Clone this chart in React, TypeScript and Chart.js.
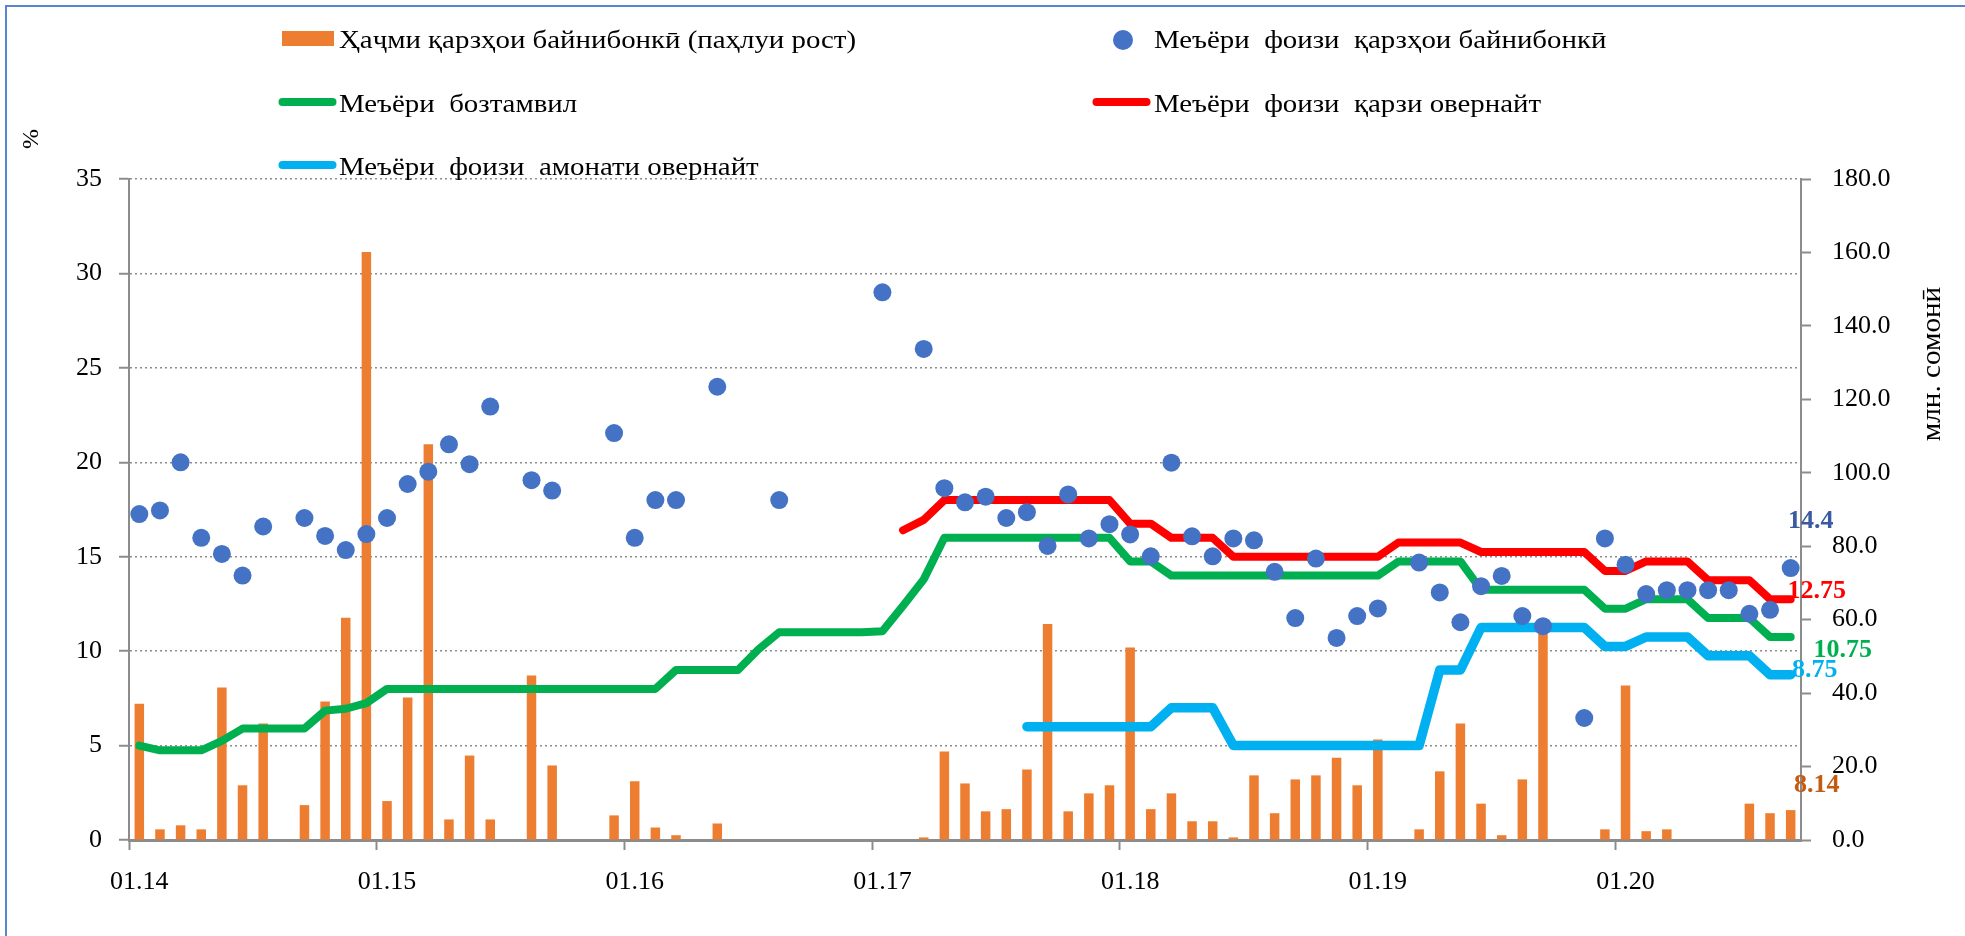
import React, { useEffect, useRef } from 'react';
import { Chart, registerables } from 'chart.js';

Chart.register(...registerables);

// ---------------- DATA ----------------
const monthLabels: string[] = [
  '01.14', '02.14', '03.14', '04.14', '05.14', '06.14', '07.14', '08.14', '09.14', '10.14', '11.14', '12.14',
  '01.15', '02.15', '03.15', '04.15', '05.15', '06.15', '07.15', '08.15', '09.15', '10.15', '11.15', '12.15',
  '01.16', '02.16', '03.16', '04.16', '05.16', '06.16', '07.16', '08.16', '09.16', '10.16', '11.16', '12.16',
  '01.17', '02.17', '03.17', '04.17', '05.17', '06.17', '07.17', '08.17', '09.17', '10.17', '11.17', '12.17',
  '01.18', '02.18', '03.18', '04.18', '05.18', '06.18', '07.18', '08.18', '09.18', '10.18', '11.18', '12.18',
  '01.19', '02.19', '03.19', '04.19', '05.19', '06.19', '07.19', '08.19', '09.19', '10.19', '11.19', '12.19',
  '01.20', '02.20', '03.20', '04.20', '05.20', '06.20', '07.20', '08.20', '09.20',
];

// Interbank loan volume, mln somoni (right axis)
const interbankVolume: (number | null)[] = [
  37.1, 2.9, 4.0, 2.9, 41.5, 14.9, 31.7, null, 9.5, 37.7, 60.5, 160.1,
  10.6, 38.8, 107.8, 5.6, 23.0, 5.6, null, 44.8, 20.3, null, null, 6.7,
  16.0, 3.4, 1.3, null, 4.5, null, null, null, null, null, null, null,
  null, null, 0.7, 24.1, 15.4, 7.8, 8.4, 19.2, 58.8, 7.8, 12.7, 14.9,
  52.4, 8.4, 12.7, 5.1, 5.1, 0.7, 17.6, 7.3, 16.5, 17.6, 22.4, 14.9,
  27.4, null, 2.9, 18.7, 31.7, 9.9, 1.3, 16.5, 58.2, null, null, 2.9,
  42.1, 2.4, 2.9, null, null, null, 9.9, 7.3, 8.14,
];

// Interbank loan rate, % (left axis)
const interbankRate: (number | null)[] = [
  17.26, 17.45, 20.0, 16.0, 15.15, 14.0, 16.6, null, 17.05, 16.1, 15.35, 16.2,
  17.05, 18.85, 19.5, 20.95, 19.9, 22.95, null, 19.05, 18.5, null, null, 21.55,
  16.0, 18.0, 18.0, null, 24.0, null, null, 18.0, null, null, null, null,
  29.0, null, 26.0, 18.63, 17.88, 18.18, 17.05, 17.36, 15.57, 18.3, 15.97, 16.72,
  16.18, 15.02, 19.98, 16.08, 15.02, 15.97, 15.87, 14.2, 11.75, 14.9, 10.7, 11.86,
  12.26, null, 14.69, 13.11, 11.53, 13.44, 13.98, 11.86, 11.32, null, 6.46, 15.97,
  14.58, 13.02, 13.23, 13.23, 13.23, 13.23, 11.98, 12.19, 14.4,
];

// Refinancing rate, %
const refinancingRate: (number | null)[] = [
  5.0, 4.75, 4.75, 4.75, 5.25, 5.9, 5.9, 5.9, 5.9, 6.85, 6.95, 7.25,
  8.0, 8.0, 8.0, 8.0, 8.0, 8.0, 8.0, 8.0, 8.0, 8.0, 8.0, 8.0,
  8.0, 8.0, 9.0, 9.0, 9.0, 9.0, 10.1, 11.0, 11.0, 11.0, 11.0, 11.0,
  11.05, 12.4, 13.8, 16.0, 16.0, 16.0, 16.0, 16.0, 16.0, 16.0, 16.0, 16.0,
  14.75, 14.75, 14.0, 14.0, 14.0, 14.0, 14.0, 14.0, 14.0, 14.0, 14.0, 14.0,
  14.0, 14.75, 14.75, 14.75, 14.75, 13.25, 13.25, 13.25, 13.25, 13.25, 13.25, 12.25,
  12.25, 12.75, 12.75, 12.75, 11.75, 11.75, 11.75, 10.75, 10.75,
];

// Overnight loan rate, %
const overnightLoanRate: (number | null)[] = [
  null, null, null, null, null, null, null, null, null, null, null, null,
  null, null, null, null, null, null, null, null, null, null, null, null,
  null, null, null, null, null, null, null, null, null, null, null, null,
  null, 16.4, 16.95, 18.0, 18.0, 18.0, 18.0, 18.0, 18.0, 18.0, 18.0, 18.0,
  16.75, 16.75, 16.0, 16.0, 16.0, 15.0, 15.0, 15.0, 15.0, 15.0, 15.0, 15.0,
  15.0, 15.75, 15.75, 15.75, 15.75, 15.25, 15.25, 15.25, 15.25, 15.25, 15.25, 14.25,
  14.25, 14.75, 14.75, 14.75, 13.75, 13.75, 13.75, 12.75, 12.75,
];

// Overnight deposit rate, %
const overnightDepositRate: (number | null)[] = [
  null, null, null, null, null, null, null, null, null, null, null, null,
  null, null, null, null, null, null, null, null, null, null, null, null,
  null, null, null, null, null, null, null, null, null, null, null, null,
  null, null, null, null, null, null, null, 6.0, 6.0, 6.0, 6.0, 6.0,
  6.0, 6.0, 7.0, 7.0, 7.0, 5.0, 5.0, 5.0, 5.0, 5.0, 5.0, 5.0,
  5.0, 5.0, 5.0, 9.0, 9.0, 11.25, 11.25, 11.25, 11.25, 11.25, 11.25, 10.25,
  10.25, 10.75, 10.75, 10.75, 9.75, 9.75, 9.75, 8.75, 8.75,
];

const seriesNames: string[] = [
  'Ҳаҷми қарзҳои байнибонкӣ (паҳлуи рост)',
  'Меъёри  фоизи  қарзҳои байнибонкӣ',
  'Меъёри  бозтамвил',
  'Меъёри  фоизи  қарзи овернайт',
  'Меъёри  фоизи  амонати овернайт',
];

const leftAxisTitle = '%';
const rightAxisTitle = 'млн. сомонӣ';

// ---------------- STYLE ----------------
const W = 1965;
const H = 936;
const FONT = 'Liberation Serif';
const AXIS = '#8C8C8C';
const C_BAR = '#ED7D31';
const C_DOT = '#4472C4';
const C_GREEN = '#00B050';
const C_RED = '#FF0000';
const C_BLUE = '#00B0F0';
const TEXT_HSCALE = 1.11;

const legendLayout = [
  { ds: 0, kind: 'rect', mx: 308, my: 38.5, tx: 339, ty: 48 },
  { ds: 1, kind: 'dot', mx: 1123, my: 40, tx: 1154, ty: 48 },
  { ds: 2, kind: 'line', mx: 307.5, my: 102, tx: 339, ty: 111.5 },
  { ds: 3, kind: 'line', mx: 1121.5, my: 102, tx: 1154, ty: 111.5 },
  { ds: 4, kind: 'line', mx: 307.5, my: 165, tx: 339, ty: 175 },
];

const endLabelStyle = [
  { ds: 1, color: '#3A5BA0', dx: 20, dy: -48 },
  { ds: 3, color: '#FF0000', dx: 26, dy: -9 },
  { ds: 2, color: '#00B050', dx: 52, dy: 12 },
  { ds: 4, color: '#00B0F0', dx: 24, dy: -5 },
  { ds: 0, color: '#C55A11', dx: 26, dy: -26 },
];

const framePlugin = {
  id: 'frame',
  beforeDraw(chart: any) {
    const ctx = chart.ctx;
    ctx.save();
    ctx.fillStyle = '#ffffff';
    ctx.fillRect(0, 0, chart.width, chart.height);
    ctx.fillStyle = '#5B84CF';
    ctx.fillRect(5, 5, chart.width - 5, 2);
    ctx.fillRect(5, 5, 2, chart.height - 5);
    ctx.restore();
  },
};

const legendPlugin = {
  id: 'customLegend',
  afterDraw(chart: any) {
    const ctx = chart.ctx;
    legendLayout.forEach((it) => {
      const ds = chart.data.datasets[it.ds];
      ctx.save();
      if (it.kind === 'rect') {
        ctx.fillStyle = ds.backgroundColor;
        ctx.fillRect(it.mx - 26, it.my - 7.5, 52, 15);
      } else if (it.kind === 'dot') {
        ctx.fillStyle = ds.pointBackgroundColor;
        ctx.beginPath();
        ctx.arc(it.mx, it.my, 10, 0, Math.PI * 2);
        ctx.fill();
      } else {
        ctx.strokeStyle = ds.borderColor;
        ctx.lineWidth = 8;
        ctx.lineCap = 'round';
        ctx.beginPath();
        ctx.moveTo(it.mx - 25, it.my);
        ctx.lineTo(it.mx + 25, it.my);
        ctx.stroke();
      }
      ctx.translate(it.tx, it.ty);
      ctx.scale(TEXT_HSCALE, 1);
      ctx.font = `26px "${FONT}"`;
      ctx.fillStyle = '#000';
      ctx.textAlign = 'left';
      ctx.textBaseline = 'alphabetic';
      ctx.fillText(ds.label, 0, 0);
      ctx.restore();
    });

    // axis titles
    ctx.save();
    ctx.translate(38, 139);
    ctx.rotate(-Math.PI / 2);
    ctx.font = `24px "${FONT}"`;
    ctx.fillStyle = '#000';
    ctx.textAlign = 'center';
    ctx.textBaseline = 'alphabetic';
    ctx.fillText(leftAxisTitle, 0, 0);
    ctx.restore();

    ctx.save();
    ctx.translate(1940, 364);
    ctx.rotate(-Math.PI / 2);
    ctx.scale(1.08, 1);
    ctx.font = `27px "${FONT}"`;
    ctx.fillStyle = '#000';
    ctx.textAlign = 'center';
    ctx.textBaseline = 'alphabetic';
    ctx.fillText(rightAxisTitle, 0, 0);
    ctx.restore();
  },
};

const endLabelPlugin = {
  id: 'endLabels',
  afterDatasetsDraw(chart: any) {
    const ctx = chart.ctx;
    endLabelStyle.forEach((l) => {
      const data = chart.data.datasets[l.ds].data;
      const last = data.length - 1;
      const el = chart.getDatasetMeta(l.ds).data[last];
      if (!el) return;
      ctx.save();
      ctx.font = `bold 26px "${FONT}"`;
      ctx.fillStyle = l.color;
      ctx.textAlign = 'center';
      ctx.textBaseline = 'middle';
      ctx.fillText(String(data[last]), el.x + l.dx, el.y + l.dy + 1);
      ctx.restore();
    });
  },
};

export default function App() {
  const ref = useRef<HTMLCanvasElement | null>(null);

  useEffect(() => {
    if (!ref.current) return;
    const tickFont = { family: FONT, size: 26 };
    const chart = new Chart(ref.current, {
      type: 'bar',
      data: {
        labels: monthLabels,
        datasets: [
          {
            type: 'bar',
            label: seriesNames[0],
            data: interbankVolume,
            yAxisID: 'y2',
            backgroundColor: C_BAR,
            barPercentage: 0.46,
            categoryPercentage: 1,
            order: 10,
          } as any,
          {
            type: 'line',
            label: seriesNames[1],
            data: interbankRate,
            yAxisID: 'y',
            showLine: false,
            pointRadius: 9,
            pointHoverRadius: 9,
            pointBorderWidth: 0,
            pointBackgroundColor: C_DOT,
            borderColor: C_DOT,
            backgroundColor: C_DOT,
            order: 0,
          },
          {
            type: 'line',
            label: seriesNames[2],
            data: refinancingRate,
            yAxisID: 'y',
            borderColor: C_GREEN,
            backgroundColor: C_GREEN,
            borderWidth: 8,
            pointRadius: 0,
            borderCapStyle: 'round',
            borderJoinStyle: 'round',
            tension: 0,
            spanGaps: false,
            order: 3,
          },
          {
            type: 'line',
            label: seriesNames[3],
            data: overnightLoanRate,
            yAxisID: 'y',
            borderColor: C_RED,
            backgroundColor: C_RED,
            borderWidth: 8,
            pointRadius: 0,
            borderCapStyle: 'round',
            borderJoinStyle: 'round',
            tension: 0,
            spanGaps: false,
            order: 2,
          },
          {
            type: 'line',
            label: seriesNames[4],
            data: overnightDepositRate,
            yAxisID: 'y',
            borderColor: C_BLUE,
            backgroundColor: C_BLUE,
            borderWidth: 9.5,
            pointRadius: 0,
            borderCapStyle: 'round',
            borderJoinStyle: 'round',
            tension: 0,
            spanGaps: false,
            order: 4,
          },
        ],
      },
      options: {
        responsive: false,
        animation: false,
        events: [],
        layout: { padding: { top: 179, left: 0, right: 0, bottom: 0 } },
        plugins: {
          legend: { display: false },
          tooltip: { enabled: false },
          title: { display: false },
        },
        scales: {
          x: {
            type: 'category',
            offset: true,
            grid: {
              offset: true,
              drawOnChartArea: false,
              drawTicks: true,
              tickLength: 10,
              tickWidth: 2,
              tickColor: (c: any) => (c.index % 12 === 0 ? AXIS : 'rgba(0,0,0,0)'),
            },
            border: { display: true, color: AXIS, width: 3 },
            ticks: {
              autoSkip: false,
              maxRotation: 0,
              minRotation: 0,
              padding: 17,
              color: '#000',
              font: tickFont,
              callback: function (this: any, value: any, index: number) {
                return index % 12 === 0 ? this.getLabelForValue(value) : '';
              },
            },
            afterFit: (s: any) => {
              s.height = 96;
            },
          },
          y: {
            type: 'linear',
            position: 'left',
            min: 0,
            max: 35,
            grid: {
              color: AXIS,
              lineWidth: 1.5,
              drawTicks: true,
              tickLength: 10,
              tickWidth: 2,
              tickColor: AXIS,
              tickBorderDash: [],
            },
            border: { display: true, color: AXIS, width: 2, dash: [2, 3] },
            ticks: { stepSize: 5, padding: 17, color: '#000', font: tickFont },
            afterFit: (s: any) => {
              s.width = 129;
            },
          },
          y2: {
            type: 'linear',
            position: 'right',
            min: 0,
            max: 180,
            grid: {
              drawOnChartArea: false,
              drawTicks: true,
              tickLength: 10,
              tickWidth: 2,
              tickColor: AXIS,
            },
            border: { display: true, color: AXIS, width: 2 },
            ticks: {
              stepSize: 20,
              padding: 21,
              color: '#000',
              font: tickFont,
              callback: (v: any) => Number(v).toFixed(1),
            },
            afterFit: (s: any) => {
              s.width = 164;
            },
          },
        },
      } as any,
      plugins: [framePlugin, endLabelPlugin, legendPlugin],
    });
    return () => chart.destroy();
  }, []);

  return (
    <div style={{ position: 'fixed', left: 0, top: 0, width: W, height: H, background: '#fff' }}>
      <canvas ref={ref} width={W} height={H} style={{ display: 'block', width: W, height: H }} />
    </div>
  );
}
